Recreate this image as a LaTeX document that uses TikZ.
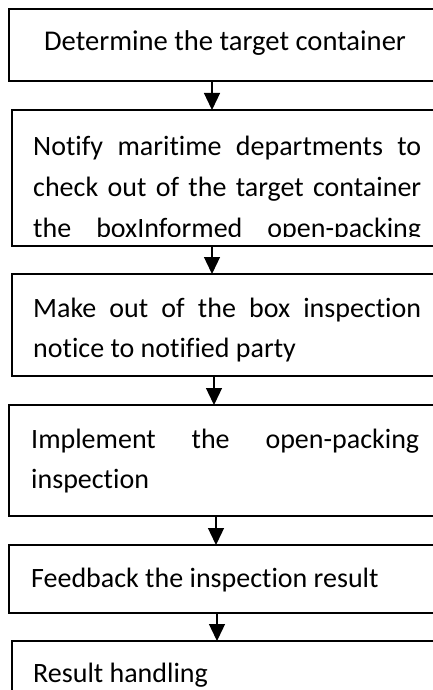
\documentclass[tikz,border=0pt]{standalone}
\usepackage{fontspec}
\setmainfont{Carlito}[Ligatures={NoCommon,NoContextual}]
\usetikzlibrary{arrows.meta}
\begin{document}
\begin{tikzpicture}[x=1pt,y=-1pt,
  box/.style={draw, line width=1.3pt, rectangle, anchor=north west, inner sep=0pt, outer sep=0pt, minimum width=450pt},
  txt/.style={anchor=base west, inner sep=0pt, font=\fontsize{28}{40}\selectfont},
  flow/.style={-{Triangle[width=16pt,length=17pt]}, line width=1.3pt}]
\clip (0,0) rectangle (433,690);
% boxes
\node[box, minimum height=72pt]  (b1) at (9,9) {};
\node[box, minimum height=136pt] (b2) at (12,110) {};
\node[box, minimum height=102pt] (b3) at (12,274) {};
\node[box, minimum height=111pt] (b4) at (9,405) {};
\node[box, minimum height=68pt]  (b5) at (9,545) {};
\node[box, minimum height=80pt]  (b6) at (12,641) {};
% texts
\node[txt, font=\fontsize{28.6}{40}\selectfont, anchor=base] (t1) at (225,51) {Determine the target container};
\node[txt] (t2a) at (33,155) {\hbox to 388pt{Notify\hfill maritime\hfill departments\hfill to}};
\node[txt] (t2b) at (33,196) {\hbox to 388pt{check\hfill out\hfill of\hfill the\hfill target\hfill container}};
\begin{scope}
\clip (0,200) rectangle (433,236);
\node[txt] (t2c) at (33,237) {\hbox to 388pt{the\hfill boxInformed\hfill open-packing}};
\end{scope}
\node[txt] (t3a) at (33,317) {\hbox to 388pt{Make\hfill out\hfill of\hfill the\hfill box\hfill inspection}};
\node[txt] (t3b) at (33,357) {notice to notified party};
\node[txt] (t4a) at (31,448) {\hbox to 388pt{Implement\hfill the\hfill open-packing}};
\node[txt] (t4b) at (31,488) {inspection};
\node[txt] (t5) at (31,587) {Feedback the inspection result};
\node[txt] (t6) at (33,682) {Result handling};
% arrow columns
\coordinate (c1) at (212,0);
\coordinate (c2) at (212,0);
\coordinate (c3) at (214,0);
\coordinate (c4) at (216,0);
\coordinate (c5) at (217,0);
\draw[flow] (b1.south -| c1) -- (b2.north -| c1);
\draw[flow] (b2.south -| c2) -- (b3.north -| c2);
\draw[flow] (b3.south -| c3) -- (b4.north -| c3);
\draw[flow] (b4.south -| c4) -- (b5.north -| c4);
\draw[flow] (b5.south -| c5) -- (b6.north -| c5);
\end{tikzpicture}
\end{document}
